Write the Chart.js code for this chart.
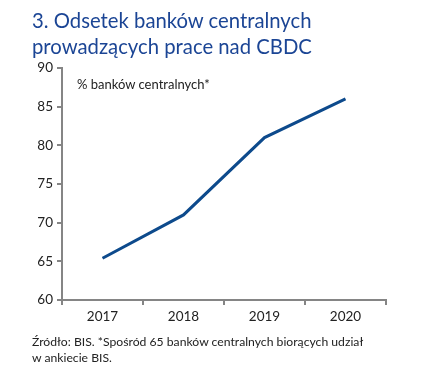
<!DOCTYPE html>
<html>
<head>
<meta charset="utf-8">
<script src="https://cdn.jsdelivr.net/npm/chart.js@4"></script>
<style>
  body { margin: 0; background: #fff; }
  #wrap { position: relative; width: 422px; height: 375px; }
  #wykres { position: absolute; left: 0; top: 0; }
  .tekst { position: absolute; font-family: Lato, sans-serif; white-space: nowrap; }
  #tytul { left: 32px; top: 7px; font-size: 20.3px; line-height: 26px; color: #1b4595; }
  #podtytul { left: 77px; top: 76px; font-size: 13px; color: #222; }
  #zrodlo { left: 32px; top: 334px; font-size: 12.2px; line-height: 16px; color: #222; }
</style>
</head>
<body>
<div id="wrap">
  <canvas id="wykres" width="422" height="375"></canvas>
  <div class="tekst" id="tytul">3. Odsetek banków centralnych<br>prowadzących prace nad CBDC</div>
  <div class="tekst" id="podtytul">% banków centralnych*</div>
  <div class="tekst" id="zrodlo">Źródło: BIS. *Spośród 65 banków centralnych biorących udział<br>w ankiecie BIS.</div>
</div>
<script>
// dane
const lata = ['2017', '2018', '2019', '2020'];
const odsetekBankow = [65.4, 71, 81, 86];
const osY = { min: 60, max: 90, krok: 5 };

const szary = '#858585';

const configWykres = {
    type: 'line',
    data: {
        labels: lata,
        datasets: [{
            label: '% banków centralnych',
            data: odsetekBankow,
            borderColor: '#0d4a8c',
            borderWidth: 3,
            pointRadius: 0,
            tension: 0,
            fill: false
        }]
    },
    options: {
        responsive: false,
        animation: false,
        layout: { padding: { left: 0, right: 36, top: 68, bottom: 45 } },
        plugins: { legend: { display: false }, tooltip: { enabled: false } },
        scales: {
            x: {
                offset: true,
                grid: { offset: true, drawOnChartArea: false, color: szary, lineWidth: 2, tickLength: 5 },
                border: { color: szary, width: 2 },
                ticks: { color: '#222', font: { family: 'Lato', size: 13.5 }, padding: 4 },
                afterFit: function (skala) { skala.height = 30; }
            },
            y: {
                min: osY.min,
                max: osY.max,
                grid: { drawOnChartArea: false, color: szary, lineWidth: 2, tickLength: 5 },
                border: { color: szary, width: 2 },
                ticks: { stepSize: osY.krok, color: '#222', font: { family: 'Lato', size: 13.5 }, padding: 4 },
                afterFit: function (skala) { skala.width = 62; }
            }
        }
    }
};

let wykres = new Chart(document.getElementById('wykres'), configWykres);
</script>
</body>
</html>
